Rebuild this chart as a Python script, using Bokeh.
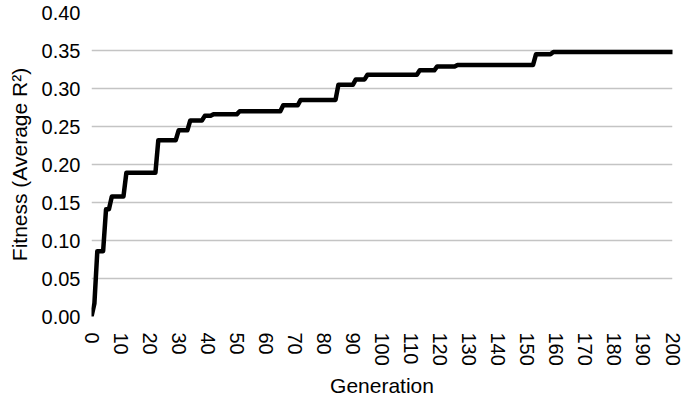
from bokeh.plotting import figure
from bokeh.models import FixedTicker, NumeralTickFormatter, Range1d, ColumnDataSource
from bokeh.embed import file_html
from bokeh.resources import INLINE

# Generations at which best fitness changes, and the fitness reached there
change_generations = [0, 1, 2, 5, 7, 12, 23, 30, 34, 39, 42, 51, 66, 72, 85, 91, 95, 113, 119, 126, 153, 159]
fitness_values = [0.000, 0.017, 0.086, 0.141, 0.158, 0.189, 0.232, 0.245, 0.258, 0.264, 0.266, 0.270,
                  0.278, 0.285, 0.305, 0.312, 0.318, 0.324, 0.329, 0.331, 0.345, 0.348]
last_generation = 200

x_ticks = list(range(0, 201, 10))
y_ticks = [0.0, 0.05, 0.10, 0.15, 0.20, 0.25, 0.30, 0.35, 0.40]

# vertices of the line (value held until the generation before each change)
xs, ys = [], []
for i, (g, v) in enumerate(zip(change_generations, fitness_values)):
    if i > 0 and g - 1 > xs[-1]:
        xs.append(g - 1)
        ys.append(ys[-1])
    xs.append(g)
    ys.append(v)
xs.append(last_generation)
ys.append(ys[-1])

src = ColumnDataSource(dict(x=xs, y=ys))

FONT = "Liberation Sans"

p = figure(width=685, height=403, output_backend="svg", toolbar_location=None,
           x_range=Range1d(0, 200), y_range=Range1d(0, 0.40),
           min_border_left=91, min_border_right=13, min_border_top=12, min_border_bottom=87)
p.outline_line_color = None
p.background_fill_color = "white"
p.border_fill_color = "white"

p.line("x", "y", source=src, line_color="black", line_width=4.5,
       line_join="round", line_cap="round")

p.xgrid.grid_line_color = None
p.ygrid.grid_line_color = "#c4c4c4"
p.ygrid.grid_line_width = 1.6
p.ygrid.ticker = FixedTicker(ticks=y_ticks)

for ax in (p.xaxis[0], p.yaxis[0]):
    ax.axis_line_color = None
    ax.major_tick_line_color = None
    ax.minor_tick_line_color = None
    ax.major_tick_out = 0
    ax.major_tick_in = 0
    ax.major_label_text_font = FONT
    ax.major_label_text_font_size = "20px"
    ax.major_label_text_color = "black"
    ax.axis_label_text_font = FONT
    ax.axis_label_text_font_size = "21px"
    ax.axis_label_text_font_style = "normal"
    ax.axis_label_text_color = "black"

p.xaxis.ticker = FixedTicker(ticks=x_ticks)
p.xaxis.major_label_orientation = "vertical"
p.xaxis.major_label_standoff = 16
p.xaxis.axis_label = "Generation"
p.xaxis.axis_label_standoff = 5

p.yaxis.ticker = FixedTicker(ticks=y_ticks)
p.yaxis.formatter = NumeralTickFormatter(format="0.00")
p.yaxis.major_label_standoff = 11
p.yaxis.axis_label = "Fitness (Average R²)"
p.yaxis.axis_label_standoff = 8

open("out.html", "w").write(file_html(p, INLINE))
